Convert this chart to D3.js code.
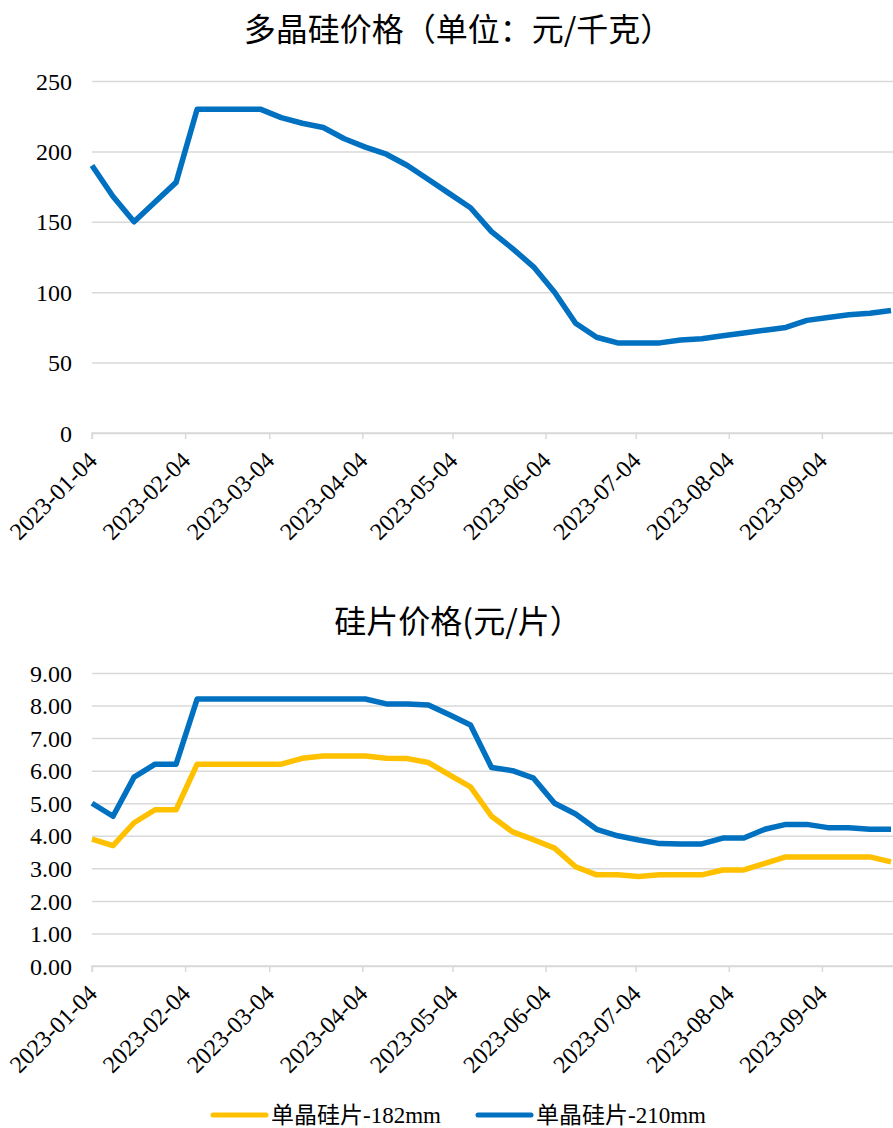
<!DOCTYPE html>
<html lang="zh">
<head>
<meta charset="UTF-8">
<title>多晶硅与硅片价格</title>
<style>
  body { margin: 0; background: #fff; }
  svg text { font-family: "Liberation Serif", "Times New Roman", "Noto Sans CJK SC", serif; fill: #000; }
  svg text.title { font-family: "Noto Sans CJK SC", sans-serif; }
</style>
</head>
<body>
<svg id="svg" width="893" height="1128"></svg>

<script src="https://d3js.org/d3.v7.min.js"></script>
<script>
// ---- data ----
const dates = [
  '2023-01-04','2023-01-11','2023-01-18','2023-01-25',
  '2023-02-01','2023-02-08','2023-02-15','2023-02-22',
  '2023-03-01','2023-03-08','2023-03-15','2023-03-22','2023-03-29',
  '2023-04-05','2023-04-12','2023-04-19','2023-04-26',
  '2023-05-03','2023-05-10','2023-05-17','2023-05-24','2023-05-31',
  '2023-06-07','2023-06-14','2023-06-21','2023-06-28',
  '2023-07-05','2023-07-12','2023-07-19','2023-07-26',
  '2023-08-02','2023-08-09','2023-08-16','2023-08-23','2023-08-30',
  '2023-09-06','2023-09-13','2023-09-20','2023-09-27'
]
const polysilicon = [
  190, 168, 150, 164,
  178, 230, 230, 230,
  230, 224, 220, 217, 209,
  203, 198, 190, 180,
  170, 160, 143, 131, 118,
  100, 78, 68, 64,
  64, 64, 66, 67,
  69, 71, 73, 75, 80,
  82, 84, 85, 87
]
const wafer182 = [
  3.9, 3.7, 4.4, 4.8,
  4.8, 6.2, 6.2, 6.2,
  6.2, 6.2, 6.38, 6.45, 6.45,
  6.45, 6.38, 6.37, 6.25,
  5.87, 5.5, 4.6, 4.12, 3.88,
  3.62, 3.05, 2.8, 2.8,
  2.75, 2.8, 2.8, 2.8,
  2.95, 2.95, 3.15, 3.35, 3.35,
  3.35, 3.35, 3.35, 3.2
]
const wafer210 = [
  5.0, 4.6, 5.8, 6.2,
  6.2, 8.2, 8.2, 8.2,
  8.2, 8.2, 8.2, 8.2, 8.2,
  8.2, 8.05, 8.05, 8.02,
  7.72, 7.4, 6.1, 6.0, 5.77,
  5.0, 4.67, 4.2, 4.0,
  3.87, 3.76, 3.75, 3.75,
  3.93, 3.93, 4.2, 4.35, 4.35,
  4.25, 4.25, 4.2, 4.2
]
const monthTicks = ['2023-01-04','2023-02-04','2023-03-04','2023-04-04','2023-05-04',
  '2023-06-04','2023-07-04','2023-08-04','2023-09-04']
const topTicks = [0, 50, 100, 150, 200, 250]
const bottomTicks = [0, 1, 2, 3, 4, 5, 6, 7, 8, 9]
const seriesNames = ['单晶硅片-182mm', '单晶硅片-210mm']
const colors = ['#FFC000', '#0070C0']

const parse = d3.timeParse('%Y-%m-%d')
const fmt = d3.timeFormat('%Y-%m-%d')
const svg = d3.select('#svg')

const x = d3.scaleTime()
  .domain([parse('2023-01-04'), parse('2023-09-27')])
  .range([92, 891])

function drawPanel(opts) {
  const y = d3.scaleLinear().domain(opts.domain).range([opts.bottom, opts.top])
  const g = svg.append('g')

  // gridlines + y labels
  g.append('g')
    .attr('transform', 'translate(92,0)')
    .call(d3.axisLeft(y).tickValues(opts.ticks).tickSize(-(893 - 92)).tickPadding(20).tickFormat(opts.fmt))
    .attr('font-family', null).attr('font-size', null)
    .call(a => a.select('.domain').remove())
    .call(a => a.selectAll('line').attr('stroke', '#d9d9d9').attr('stroke-width', 1.5))
    .call(a => a.selectAll('text').attr('font-size', 24).attr('dy', '0.34em'))

  // x axis
  const xa = g.append('g')
    .attr('transform', `translate(0,${opts.bottom})`)
    .call(d3.axisBottom(x).tickValues(monthTicks.map(parse)).tickSize(6).tickFormat(fmt))
    .attr('font-family', null).attr('font-size', null)
  xa.select('.domain').attr('stroke', '#d9d9d9').attr('stroke-width', 1.5)
    .attr('d', `M92,6V0H893`)
  xa.selectAll('line').attr('stroke', '#d9d9d9').attr('stroke-width', 1.5)
  xa.selectAll('text')
    .attr('font-size', 24)
    .attr('text-anchor', 'end')
    .attr('dy', '0.3em')
    .attr('transform', 'translate(1,24) rotate(-45)')
    .attr('y', 0).attr('x', 0)

  // lines
  const line = d3.line()
    .x((d, i) => x(parse(dates[i])))
    .y(d => y(d))
  opts.series.forEach((s, k) => {
    g.append('path')
      .datum(s)
      .attr('fill', 'none')
      .attr('stroke', opts.colors[k])
      .attr('stroke-width', 5.5)
      .attr('stroke-linejoin', 'round')
      .attr('d', line)
  })

  // title
  svg.append('text')
    .attr('class', 'title')
    .attr('x', 458).attr('y', opts.titleY)
    .attr('text-anchor', 'middle')
    .attr('font-size', 32)
    .text(opts.title)
}

drawPanel({
  domain: [0, 250], top: 81, bottom: 433, ticks: topTicks,
  fmt: d3.format('d'), series: [polysilicon], colors: ['#0070C0'],
  title: '多晶硅价格（单位：元/千克）', titleY: 41
})

drawPanel({
  domain: [0, 9], top: 673, bottom: 966, ticks: bottomTicks,
  fmt: d3.format('.2f'), series: [wafer182, wafer210], colors: colors,
  title: '硅片价格(元/片）', titleY: 633
})

// legend
const legend = svg.append('g').attr('transform', 'translate(0,1115)')
const legendX = [213, 478]
seriesNames.forEach((name, i) => {
  legend.append('line')
    .attr('x1', legendX[i]).attr('x2', legendX[i] + 53)
    .attr('stroke', colors[i]).attr('stroke-width', 5).attr('stroke-linecap', 'round')
  legend.append('text')
    .attr('x', legendX[i] + 58).attr('dy', '0.35em')
    .attr('font-size', 23)
    .text(name)
})
</script>
</body>
</html>
